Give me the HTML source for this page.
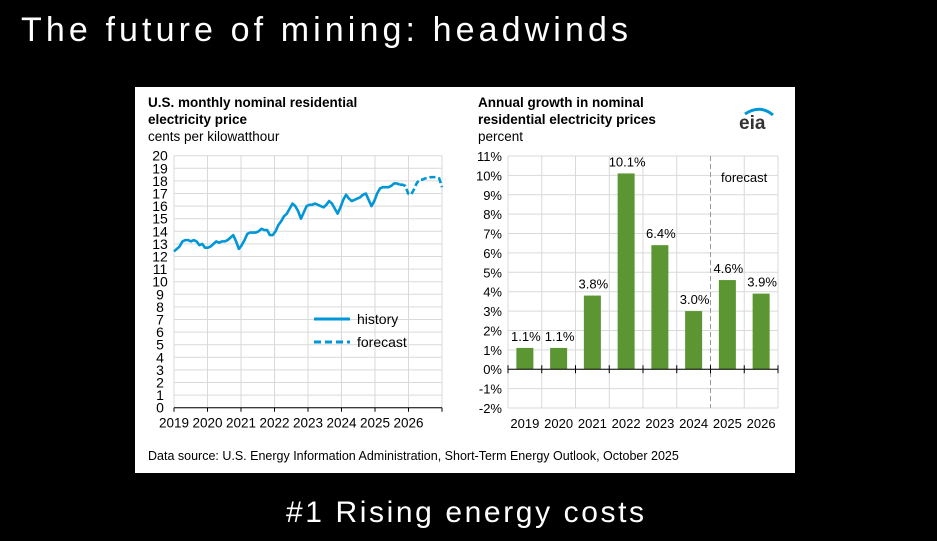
<!DOCTYPE html>
<html><head><meta charset="utf-8"><style>
body{margin:0;background:#000;width:937px;height:541px;overflow:hidden}
svg{display:block;font-family:"Liberation Sans",Arial,sans-serif}
</style></head><body>
<svg width="937" height="541" viewBox="0 0 937 541">
<text x="21" y="41" fill="#fff" font-size="34" textLength="607" lengthAdjust="spacing">The future of mining: headwinds</text>
<text x="465" y="522" fill="#fff" font-size="30" text-anchor="middle" textLength="358" lengthAdjust="spacing">#1 Rising energy costs</text>
<rect x="135" y="87" width="660" height="386" fill="#fff"/>
<g id="left"></g>
<g id="right"></g>
<text x="148" y="460" font-size="12.5" fill="#000">Data source: U.S. Energy Information Administration, Short-Term Energy Outlook, October 2025</text>
</svg>
<script>
const lineYears=["2019","2020","2021","2022","2023","2024","2025","2026"];
const historyVals=[12.4,12.6,12.8,13.2,13.3,13.3,13.2,13.3,13.2,12.9,13.0,12.7,
12.7,12.8,13.0,13.2,13.1,13.2,13.2,13.3,13.5,13.7,13.2,12.6,
12.9,13.3,13.8,13.9,13.9,13.9,14.0,14.2,14.1,14.1,13.7,13.7,
14.0,14.5,14.8,15.2,15.4,15.8,16.2,16.0,15.6,15.0,15.5,16.0,
16.1,16.1,16.2,16.1,16.0,15.9,16.1,16.4,16.2,15.8,15.4,15.9,
16.5,16.9,16.6,16.4,16.5,16.6,16.7,16.9,17.0,16.5,16.0,16.4,
17.0,17.4,17.5,17.5,17.5,17.6,17.8,17.8,17.7];
const forecastVals=[17.7,17.7,17.6,17.0,16.9,17.3,17.8,18.1,18.1,18.2,18.2,18.3,18.3,18.3,18.2,17.5];
const barYears=["2019","2020","2021","2022","2023","2024","2025","2026"];
const barVals=[1.1,1.1,3.8,10.1,6.4,3.0,4.6,3.9];
const barLabels=["1.1%","1.1%","3.8%","10.1%","6.4%","3.0%","4.6%","3.9%"];
const pctTicks=[11,10,9,8,7,6,5,4,3,2,1,0,-1,-2];

const NS="http://www.w3.org/2000/svg";
function mk(p,t,a,txt){const e=document.createElementNS(NS,t);for(const k in a)e.setAttribute(k,a[k]);if(txt!=null)e.textContent=txt;p.appendChild(e);return e;}
const L=document.getElementById('left');
const lx0=174,lx1=442,ly0=407.7,ly1=155.7;
const lxm=i=>lx0+i*(lx1-lx0)/95;
const ly=v=>ly0-(v/20)*(ly0-ly1);
let t;
t=mk(L,'text',{x:148,y:107,'font-size':13.5,'font-weight':'bold'},'U.S. monthly nominal residential');
t=mk(L,'text',{x:148,y:124,'font-size':13.5,'font-weight':'bold'},'electricity price');
t=mk(L,'text',{x:148,y:141,'font-size':13.5},'cents per kilowatthour');
for(let v=0;v<=20;v++){
 const g=mk(L,'line',{x1:lx0,x2:lx1,y1:ly(v),y2:ly(v),stroke:'#d9d9d9','stroke-width':1});
 
 const tl=mk(L,'text',{x:160,y:ly(v)+5,'font-size':14,'text-anchor':'middle'},String(v));
 
}
const yx=i=>lx0+i*(lx1-lx0)/8;
for(let i=0;i<=8;i++){
 const xx=yx(i);
 const g=mk(L,'line',{x1:xx,x2:xx,y1:ly1,y2:ly0,stroke:'#d9d9d9'});
 
 const tk=mk(L,'line',{x1:xx,x2:xx,y1:ly0,y2:ly0+4,stroke:'#000'});
 
 if(i<8){const tl=mk(L,'text',{x:xx,y:ly0+20,'font-size':13.5,'text-anchor':'middle'},lineYears[i]);
 }
}
const ax=mk(L,'line',{x1:lx0,x2:lx1,y1:ly0,y2:ly0,stroke:'#000'});
const hp=mk(L,'polyline',{points:historyVals.map((v,i)=>lxm(i)+','+ly(v)).join(' '),fill:'none',stroke:'#0096d7','stroke-width':2.6,'stroke-linejoin':'round'});

const off=historyVals.length-1;
const fp=mk(L,'polyline',{points:forecastVals.map((v,i)=>lxm(off+i)+','+ly(v)).join(' '),fill:'none',stroke:'#0096d7','stroke-width':2.6,'stroke-dasharray':'6,3'});

let lg=mk(L,'line',{x1:314,x2:350,y1:319,y2:319,stroke:'#0096d7','stroke-width':3});
t=mk(L,'text',{x:357,y:324,'font-size':14},'history');
lg=mk(L,'line',{x1:314,x2:350,y1:342,y2:342,stroke:'#0096d7','stroke-width':3,'stroke-dasharray':'7,4'});
t=mk(L,'text',{x:357,y:347,'font-size':14},'forecast');

const R=document.getElementById('right');
const rx0=508,rx1=778,ry11=156,rym2=408;
const ry=v=>ry11+(11-v)*(rym2-ry11)/13;
const bw=(rx1-rx0)/barYears.length;
t=mk(R,'text',{x:478,y:107,'font-size':13.5,'font-weight':'bold'},'Annual growth in nominal');
t=mk(R,'text',{x:478,y:124,'font-size':13.5,'font-weight':'bold'},'residential electricity prices');
t=mk(R,'text',{x:478,y:141,'font-size':13.5},'percent');
t=mk(R,'text',{x:739,y:129,'font-size':19,'font-weight':'bold',fill:'#333'},'eia');
t=mk(R,'path',{d:'M745 114 Q760 104 773 115',fill:'none',stroke:'#0096d7','stroke-width':3});
pctTicks.forEach(v=>{
 const g=mk(R,'line',{x1:rx0,x2:rx1,y1:ry(v),y2:ry(v),stroke:'#d9d9d9'});
 const tl=mk(R,'text',{x:502,y:ry(v)+5,'font-size':13,'text-anchor':'end'},v+'%');
});
for(let i=0;i<=barYears.length;i++){
 const x=rx0+i*bw;
 const g=mk(R,'line',{x1:x,x2:x,y1:ry11,y2:rym2,stroke:i==6?'#999':'#d9d9d9','stroke-dasharray':i==6?'5,3':'none'});
 
 const tk=mk(R,'line',{x1:x,x2:x,y1:ry(0)-4,y2:ry(0)+4,stroke:'#000'});
}
barVals.forEach((v,i)=>{
 const cx=rx0+(i+0.5)*bw;
 const b=mk(R,'rect',{x:cx-8.5,y:Math.min(ry(v),ry(0)),width:17,height:Math.abs(ry(0)-ry(v)),fill:'#5b9632'});
 
 const lb=mk(R,'text',{x:cx+1,y:ry(v)-7,'font-size':13,'text-anchor':'middle'},barLabels[i]);
 
 const xl=mk(R,'text',{x:cx,y:428,'font-size':13,'text-anchor':'middle'},barYears[i]);
 
});
const zx=mk(R,'line',{x1:rx0,x2:rx1,y1:ry(0),y2:ry(0),stroke:'#000'});
t=mk(R,'text',{x:721,y:182,'font-size':13},'forecast');
</script>
</body></html>
